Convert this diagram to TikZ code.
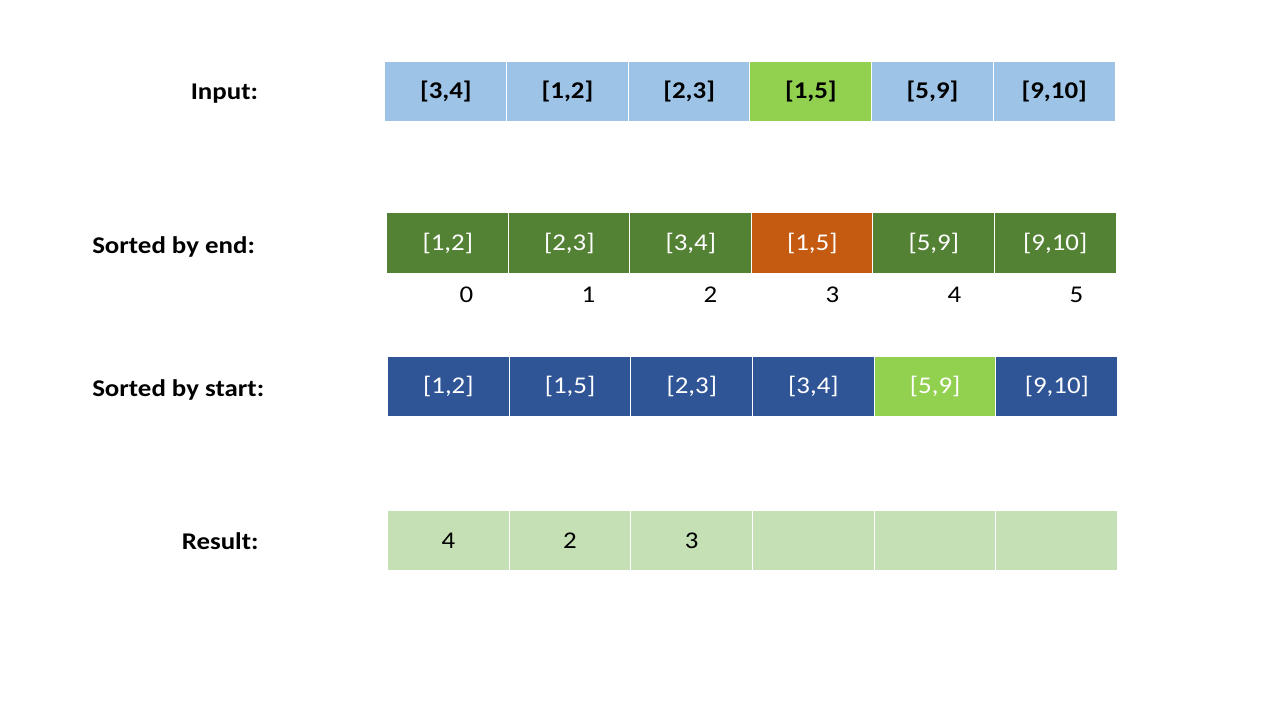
\documentclass[tikz,border=0pt]{standalone}
\usepackage{fontspec}
\setmainfont{Carlito}[FakeStretch=1.12]
\usetikzlibrary{positioning}
\definecolor{inblue}{HTML}{9DC3E6}
\definecolor{pickgreen}{HTML}{92D050}
\definecolor{endgreen}{HTML}{548235}
\definecolor{endorange}{HTML}{C55A11}
\definecolor{startblue}{HTML}{2F5597}
\definecolor{resgreen}{HTML}{C5E0B4}
\newcommand{\slidefont}{\fontsize{18}{21.6}\selectfont}

\begin{document}
\begin{tikzpicture}[x=0.75pt,y=-0.75pt,
	cell/.style={draw=white, line width=0.75pt, minimum width=91.3pt, minimum height=45pt, inner sep=0pt, outer sep=0pt, font=\slidefont},
	rowlabel/.style={anchor=base west, inner sep=0pt, font=\slidefont\bfseries}]
			\useasboundingbox (0,0) rectangle (1280,720);
			% row labels
			\node[rowlabel] (lin) at (190.5,99.3) {Input:};
			\node[rowlabel] (lend) at (92,253.3) {Sorted by end:};
			\node[rowlabel] (lstart) at (92,396) {Sorted by start:};
			\node[rowlabel] (lres) at (181.5,549.3) {Result:};
			% input
			\foreach \t/\c [count=\i] in {{[3,4]}/inblue,{[1,2]}/inblue,{[2,3]}/inblue,{[1,5]}/pickgreen,{[5,9]}/inblue,{[9,10]}/inblue}
				\node[cell, fill=\c, font=\slidefont\bfseries] (in\i) at ({385+121.67*(\i-0.5)},91.5) {\t};
			% sorted by end
			\foreach \t/\c [count=\i] in {{[1,2]}/endgreen,{[2,3]}/endgreen,{[3,4]}/endgreen,{[1,5]}/endorange,{[5,9]}/endgreen,{[9,10]}/endgreen}
				\node[cell, fill=\c, text=white] (end\i) at ({387+121.5*(\i-0.5)},243) {\t};
			\foreach \j in {0,...,5}
				\node[font=\slidefont, inner sep=0pt] (idx\j) at ({466.5+122*\j},295) {\j};
			% sorted by start
			\foreach \t/\c [count=\i] in {{[1,2]}/startblue,{[1,5]}/startblue,{[2,3]}/startblue,{[3,4]}/startblue,{[5,9]}/pickgreen,{[9,10]}/startblue}
				\node[cell, fill=\c, text=white] (st\i) at ({387.5+121.7*(\i-0.5)},386) {\t};
			% result
			\foreach \t [count=\i] in {4,2,3,{},{},{}}
				\node[cell, fill=resgreen] (res\i) at ({387.5+121.7*(\i-0.5)},540.5) {\t};
		\end{tikzpicture}
\end{document}
